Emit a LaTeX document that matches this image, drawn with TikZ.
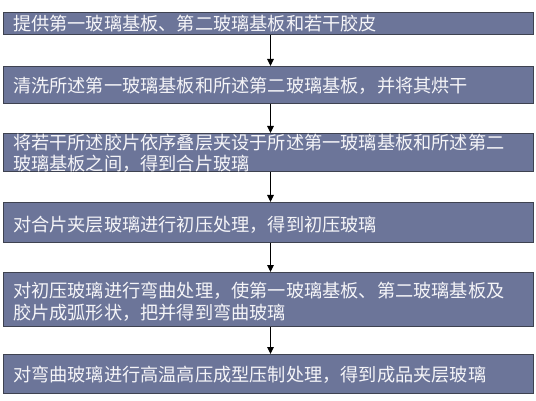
\documentclass[tikz,border=0pt]{standalone}
\usepackage{fontspec}
\setmainfont{Noto Sans CJK SC}
\usetikzlibrary{arrows.meta}
\definecolor{boxfill}{RGB}{108,117,153}
\definecolor{boxline}{RGB}{62,66,80}
\definecolor{txt}{RGB}{245,245,248}
\begin{document}
\begin{tikzpicture}[x=1pt,y=-1pt,
  stepbox/.style={draw=boxline,line width=1pt,fill=boxfill,minimum width=530pt,inner sep=0pt,anchor=north west},
  lbl/.style={anchor=west,text=txt,inner sep=0pt,align=left,font=\fontsize{18.2pt}{21.5pt}\selectfont},
  arr/.style={draw=black,line width=1pt,-{Triangle[length=7pt,width=6.5pt]}}]
\fill[white] (0,0) rectangle (536,401);
\useasboundingbox (0,0) rectangle (536,401);
\node[stepbox,minimum height=22pt] (b1) at (3,12) {};
\node[stepbox,minimum height=37pt] (b2) at (3,66) {};
\node[stepbox,minimum height=38pt] (b3) at (3,133) {};
\node[stepbox,minimum height=40pt] (b4) at (3,202) {};
\node[stepbox,minimum height=54pt] (b5) at (3,272) {};
\node[stepbox,minimum height=39pt] (b6) at (3,354) {};
\node[lbl] (t1) at ([xshift=10pt,yshift=-0.5pt]b1.west) {提供第一玻璃基板、第二玻璃基板和若干胶皮};
\node[lbl] (t2) at ([xshift=10pt,yshift=-1pt]b2.west) {清洗所述第一玻璃基板和所述第二玻璃基板，并将其烘干};
\node[lbl] (t3) at ([xshift=10pt,yshift=-1pt]b3.west) {将若干所述胶片依序叠层夹设于所述第一玻璃基板和所述第二\\玻璃基板之间，得到合片玻璃};
\node[lbl] (t4) at ([xshift=10pt,yshift=-2pt]b4.west) {对合片夹层玻璃进行初压处理，得到初压玻璃};
\node[lbl] (t5) at ([xshift=10pt,yshift=-2pt]b5.west) {对初压玻璃进行弯曲处理，使第一玻璃基板、第二玻璃基板及\\胶片成弧形状，把并得到弯曲玻璃};
\node[lbl] (t6) at ([xshift=10pt,yshift=-1pt]b6.west) {对弯曲玻璃进行高温高压成型压制处理，得到成品夹层玻璃};
\draw[arr] ([xshift=2pt]b1.south) -- ([xshift=2pt]b2.north);
\draw[arr] ([xshift=2pt]b2.south) -- ([xshift=2pt]b3.north);
\draw[arr] ([xshift=2pt]b3.south) -- ([xshift=2pt]b4.north);
\draw[arr] ([xshift=2pt]b4.south) -- ([xshift=2pt]b5.north);
\draw[arr] ([xshift=2pt]b5.south) -- ([xshift=2pt]b6.north);
\end{tikzpicture}
\end{document}
